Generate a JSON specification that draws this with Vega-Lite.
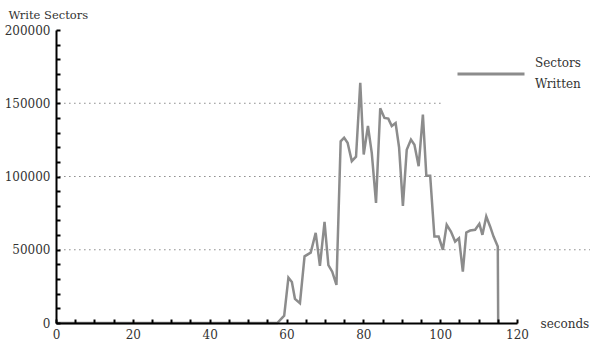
{
  "$schema": "https://vega.github.io/schema/vega-lite/v6.json",
  "width": 461,
  "height": 293,
  "autosize": "none",
  "padding": {"left": 56, "top": 30, "right": 84, "bottom": 24},
  "background": "white",
  "config": {
    "view": {"stroke": null},
    "font": "DejaVu Serif",
    "style": {"guide-label": {"lineHeight": 21}}
  },
  "datasets": {
    "grid": [
      {"t": 0.8, "t2": 139, "v": 50000},
      {"t": 0.8, "t2": 139, "v": 100000},
      {"t": 0.8, "t2": 100.8, "v": 150000}
    ],
    "series": [
      {"t": 0, "v": 0},
      {"t": 57.6, "v": 0},
      {"t": 59.4, "v": 5000},
      {"t": 60.5, "v": 31000},
      {"t": 61.4, "v": 28000},
      {"t": 62.2, "v": 16500},
      {"t": 63.5, "v": 13500},
      {"t": 64.7, "v": 45500},
      {"t": 66.3, "v": 48000},
      {"t": 67.6, "v": 61500},
      {"t": 68.7, "v": 39000},
      {"t": 69.9, "v": 69000},
      {"t": 70.9, "v": 39500},
      {"t": 71.9, "v": 35000},
      {"t": 73.0, "v": 26000},
      {"t": 74.1, "v": 124000},
      {"t": 75.0, "v": 126500},
      {"t": 75.9, "v": 123000},
      {"t": 77.0, "v": 110500},
      {"t": 78.1, "v": 113500},
      {"t": 79.2, "v": 164000},
      {"t": 80.1, "v": 115000},
      {"t": 81.2, "v": 134500},
      {"t": 82.2, "v": 116000},
      {"t": 83.3, "v": 82000},
      {"t": 84.4, "v": 146500},
      {"t": 85.5, "v": 140000},
      {"t": 86.5, "v": 139500},
      {"t": 87.4, "v": 134500},
      {"t": 88.4, "v": 136500},
      {"t": 89.3, "v": 120000},
      {"t": 90.3, "v": 80000},
      {"t": 91.3, "v": 118300},
      {"t": 92.4, "v": 125200},
      {"t": 93.3, "v": 121700},
      {"t": 94.4, "v": 107000},
      {"t": 95.5, "v": 142300},
      {"t": 96.4, "v": 100500},
      {"t": 97.4, "v": 100500},
      {"t": 98.5, "v": 59000},
      {"t": 99.6, "v": 59000},
      {"t": 100.7, "v": 50000},
      {"t": 101.7, "v": 67000},
      {"t": 102.8, "v": 62400},
      {"t": 103.9, "v": 55600},
      {"t": 104.9, "v": 57900},
      {"t": 105.9, "v": 35100},
      {"t": 106.8, "v": 61800},
      {"t": 107.8, "v": 63100},
      {"t": 109.1, "v": 63600},
      {"t": 110.2, "v": 67700},
      {"t": 111.0, "v": 60200},
      {"t": 112.0, "v": 72700},
      {"t": 113.0, "v": 65900},
      {"t": 113.9, "v": 59000},
      {"t": 115.0, "v": 52200},
      {"t": 115.1, "v": 0}
    ]
  },
  "encoding": {
    "x": {
      "field": "t",
      "type": "quantitative",
      "scale": {"domain": [0, 120], "nice": false, "zero": false},
      "axis": {
        "zindex": 1,
        "values": [0,5,10,15,20,25,30,35,40,45,50,55,60,65,70,75,80,85,90,95,100,105,110,115,120],
        "labelExpr": "datum.value % 20 === 0 ? datum.label : ''",
        "grid": false,
        "domainColor": "black",
        "domainWidth": 2,
        "tickColor": "black",
        "tickWidth": 2,
        "tickSize": -4,
        "labelFont": "DejaVu Serif",
        "labelFontSize": 12,
        "labelColor": "#333",
        "labelPadding": 10,
        "labelBaseline": "top",
        "labelFlush": false,
        "title": "seconds",
        "titleFont": "DejaVu Serif",
        "titleFontSize": 12,
        "titleFontWeight": "normal",
        "titleColor": "#333",
        "titleAlign": "left",
        "titleBaseline": "middle",
        "titleAnchor": "start",
        "titleX": 484,
        "titleY": 0
      }
    },
    "y": {
      "field": "v",
      "type": "quantitative",
      "scale": {"domain": [0, 200000], "nice": false},
      "axis": {
        "zindex": 1,
        "values": [0,10000,20000,30000,40000,50000,60000,70000,80000,90000,100000,110000,120000,130000,140000,150000,160000,170000,180000,190000,200000],
        "labelExpr": "datum.value % 50000 === 0 ? format(datum.value, 'd') : ''",
        "grid": false,
        "domainColor": "black",
        "domainWidth": 2,
        "tickColor": "black",
        "tickWidth": 2,
        "tickSize": -4,
        "labelFont": "DejaVu Serif",
        "labelFontSize": 12,
        "labelColor": "#333",
        "labelPadding": 10,
        "labelFlush": false,
        "title": "Write Sectors",
        "titleFont": "DejaVu Serif",
        "titleFontSize": 11.5,
        "titleFontWeight": "normal",
        "titleColor": "#333",
        "titleAngle": 0,
        "titleAlign": "left",
        "titleBaseline": "middle",
        "titleX": -48,
        "titleY": -15
      }
    }
  },
  "layer": [
    {
      "data": {"name": "grid"},
      "mark": {"type": "rule", "strokeDash": [1.5, 3.5], "color": "#8a8a8a", "strokeWidth": 1},
      "encoding": {"x2": {"field": "t2"}}
    },
    {
      "data": {"name": "series"},
      "mark": {"type": "line", "strokeWidth": 2.5, "strokeJoin": "miter"},
      "encoding": {
        "color": {
          "datum": "Sectors Written",
          "type": "nominal",
          "scale": {"range": ["#8c8c8c"]},
          "legend": {
            "orient": "none",
            "legendX": 400,
            "legendY": 9,
            "title": null,
            "padding": 0,
            "symbolType": "stroke",
            "symbolSize": 4489,
            "symbolStrokeWidth": 3,
            "labelExpr": "split(datum.label, ' ')",
            "labelFont": "DejaVu Serif",
            "labelFontSize": 12,
            "labelColor": "#333",
            "labelBaseline": "line-bottom",
            "labelOffset": 9
          }
        }
      }
    }
  ]
}
